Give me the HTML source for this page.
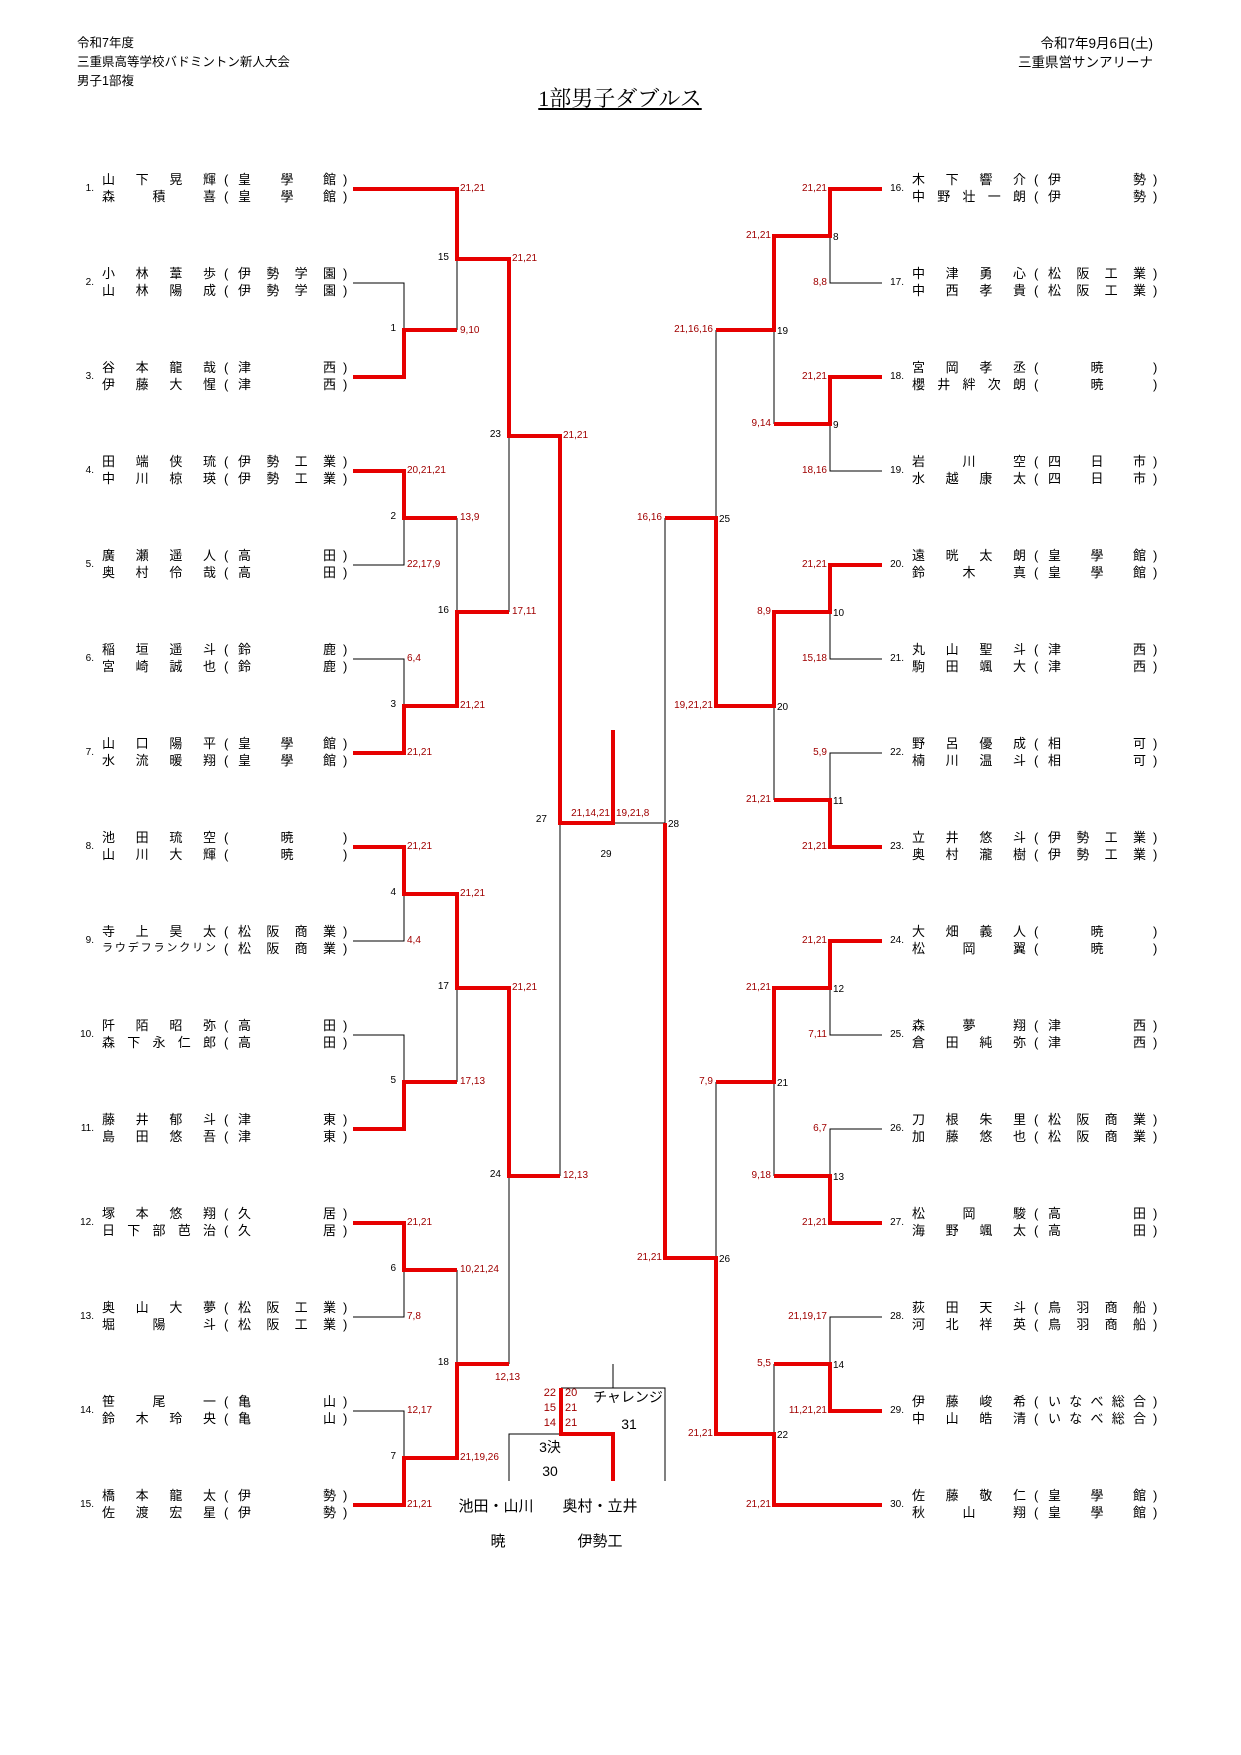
<!DOCTYPE html>
<html><head><meta charset="utf-8">
<style>
body{margin:0;background:#fff;}
#pg{position:relative;width:1241px;height:1755px;overflow:hidden;font-family:"Liberation Sans","Noto Sans CJK JP",sans-serif;color:#000;}
svg{position:absolute;left:0;top:0}
.hd{position:absolute;font-size:12.5px;line-height:19px;}
.en{position:absolute;left:0;width:360px;height:36px;}
.en.R{left:810px}
.sd{position:absolute;left:66px;width:28px;text-align:right;top:11px;font-size:10px;line-height:14px}
.ln{position:absolute;left:102px;width:250px;height:17px;font-size:13px;line-height:17px;white-space:nowrap}
.l2{top:17px}
.nm{position:absolute;left:0;width:114px;text-align:justify;text-align-last:justify}
.pl{position:absolute;left:122px}
.sc{position:absolute;left:136px;width:98px;text-align:justify;text-align-last:justify}
.sc.c{text-align-last:center;text-align:center}
.pr{position:absolute;left:241px}
.kt{font-size:11px}
</style></head><body><div id="pg">
<div class="hd" style="left:77px;top:34px">令和7年度<br>三重県高等学校バドミントン新人大会<br>男子1部複</div>
<div class="hd" style="right:88px;top:34px;text-align:right;font-size:13.5px">令和7年9月6日(土)<br>三重県営サンアリーナ</div>
<div style="position:absolute;left:520px;width:200px;top:86px;text-align:center;font-family:'Liberation Serif','Noto Serif CJK SC',serif;font-size:22px;line-height:26px;text-decoration:underline">1部男子ダブルス</div>

<svg width="1241" height="1755" viewBox="0 0 1241 1755" xmlns="http://www.w3.org/2000/svg">
<g fill="none" stroke="#000" stroke-width="1">
<polyline points="353,283 404,283 404,330"/>
<line x1="457" y1="259" x2="457" y2="330"/>
<polyline points="353,565 404,565 404,518"/>
<polyline points="353,659 404,659 404,706"/>
<line x1="457" y1="518" x2="457" y2="612"/>
<line x1="509" y1="436" x2="509" y2="612"/>
<polyline points="353,941 404,941 404,894"/>
<polyline points="353,1035 404,1035 404,1082"/>
<line x1="457" y1="988" x2="457" y2="1082"/>
<polyline points="353,1317 404,1317 404,1270"/>
<polyline points="353,1411 404,1411 404,1458"/>
<line x1="457" y1="1270" x2="457" y2="1364"/>
<line x1="509" y1="1176" x2="509" y2="1364"/>
<line x1="560" y1="823" x2="560" y2="1176"/>
<line x1="613" y1="823" x2="665" y2="823"/>
<polyline points="882,283 830,283 830,236"/>
<line x1="774" y1="330" x2="774" y2="424"/>
<polyline points="882,471 830,471 830,424"/>
<line x1="716" y1="330" x2="716" y2="518"/>
<polyline points="882,659 830,659 830,612"/>
<polyline points="882,753 830,753 830,800"/>
<line x1="774" y1="706" x2="774" y2="800"/>
<line x1="665" y1="518" x2="665" y2="823"/>
<polyline points="882,1035 830,1035 830,988"/>
<polyline points="882,1129 830,1129 830,1176"/>
<line x1="774" y1="1082" x2="774" y2="1176"/>
<line x1="716" y1="1082" x2="716" y2="1258"/>
<polyline points="882,1317 830,1317 830,1364"/>
<line x1="774" y1="1364" x2="774" y2="1434"/>
<polyline points="509,1481 509,1434 561,1434"/>
<polyline points="561,1388 665,1388 665,1481"/>
<line x1="613" y1="1364" x2="613" y2="1388"/>
</g>
<g fill="none" stroke="#e60000" stroke-width="4" stroke-linejoin="miter">
<polyline points="353,189 457,189 457,259 509,259 509,436 560,436 560,823 613,823 613,730"/>
<polyline points="353,377 404,377 404,330 457,330"/>
<polyline points="353,471 404,471 404,518 457,518"/>
<polyline points="353,753 404,753 404,706 457,706 457,612 509,612"/>
<polyline points="353,847 404,847 404,894 457,894 457,988 509,988 509,1176 560,1176"/>
<polyline points="353,1129 404,1129 404,1082 457,1082"/>
<polyline points="353,1223 404,1223 404,1270 457,1270"/>
<polyline points="353,1505 404,1505 404,1458 457,1458 457,1364 509,1364"/>
<polyline points="882,189 830,189 830,236 774,236 774,330 716,330"/>
<polyline points="882,377 830,377 830,424 774,424"/>
<polyline points="882,565 830,565 830,612 774,612 774,706 716,706 716,518 665,518"/>
<polyline points="882,847 830,847 830,800 774,800"/>
<polyline points="882,941 830,941 830,988 774,988 774,1082 716,1082"/>
<polyline points="882,1223 830,1223 830,1176 774,1176"/>
<polyline points="882,1411 830,1411 830,1364 774,1364"/>
<polyline points="882,1505 774,1505 774,1434 716,1434 716,1258 665,1258 665,823"/>
<polyline points="561,1388 561,1434 613,1434 613,1481"/>
</g>
<g font-family="Liberation Sans, sans-serif" font-size="10" fill="#a00000">
<text x="460" y="191">21,21</text><text x="460" y="333">9,10</text>
<text x="512" y="261">21,21</text><text x="512" y="614">17,11</text>
<text x="407" y="473">20,21,21</text><text x="407" y="567">22,17,9</text>
<text x="460" y="520">13,9</text><text x="460" y="708">21,21</text>
<text x="407" y="661">6,4</text><text x="407" y="755">21,21</text>
<text x="563" y="438">21,21</text><text x="563" y="1178">12,13</text>
<text x="407" y="849">21,21</text><text x="407" y="943">4,4</text>
<text x="460" y="896">21,21</text><text x="460" y="1084">17,13</text>
<text x="512" y="990">21,21</text><text x="495" y="1380">12,13</text>
<text x="460" y="1272">10,21,24</text><text x="460" y="1460">21,19,26</text>
<text x="407" y="1225">21,21</text><text x="407" y="1319">7,8</text>
<text x="407" y="1413">12,17</text><text x="407" y="1507">21,21</text>
<text x="610" y="816" text-anchor="end">21,14,21</text><text x="616" y="816">19,21,8</text>
<g text-anchor="end">
<text x="827" y="191">21,21</text><text x="827" y="285">8,8</text>
<text x="771" y="238">21,21</text><text x="771" y="426">9,14</text>
<text x="827" y="379">21,21</text><text x="827" y="473">18,16</text>
<text x="713" y="332">21,16,16</text><text x="713" y="708">19,21,21</text>
<text x="662" y="520">16,16</text><text x="662" y="1260">21,21</text>
<text x="827" y="567">21,21</text><text x="827" y="661">15,18</text>
<text x="771" y="614">8,9</text><text x="771" y="802">21,21</text>
<text x="827" y="755">5,9</text><text x="827" y="849">21,21</text>
<text x="827" y="943">21,21</text><text x="827" y="1037">7,11</text>
<text x="771" y="990">21,21</text><text x="771" y="1178">9,18</text>
<text x="713" y="1084">7,9</text><text x="713" y="1436">21,21</text>
<text x="827" y="1131">6,7</text><text x="827" y="1225">21,21</text>
<text x="827" y="1319">21,19,17</text><text x="827" y="1413">11,21,21</text>
<text x="771" y="1366">5,5</text><text x="771" y="1507">21,21</text>
</g>
<g font-size="11">
<text x="556" y="1396" text-anchor="end">22</text><text x="556" y="1411" text-anchor="end">15</text><text x="556" y="1426" text-anchor="end">14</text>
<text x="565" y="1396">20</text><text x="565" y="1411">21</text><text x="565" y="1426">21</text>
</g>
</g>
<g font-family="Liberation Sans, sans-serif" font-size="10" fill="#000">
<g text-anchor="end">
<text x="396" y="331">1</text><text x="396" y="519">2</text><text x="396" y="707">3</text><text x="396" y="895">4</text><text x="396" y="1083">5</text><text x="396" y="1271">6</text><text x="396" y="1459">7</text>
<text x="449" y="260">15</text><text x="449" y="613">16</text><text x="449" y="989">17</text><text x="449" y="1365">18</text>
<text x="501" y="437">23</text><text x="501" y="1177">24</text><text x="547" y="822">27</text>
</g>
<text x="833" y="240">8</text><text x="833" y="428">9</text><text x="833" y="616">10</text><text x="833" y="804">11</text><text x="833" y="992">12</text><text x="833" y="1180">13</text><text x="833" y="1368">14</text>
<text x="777" y="334">19</text><text x="777" y="710">20</text><text x="777" y="1086">21</text><text x="777" y="1438">22</text>
<text x="719" y="522">25</text><text x="719" y="1262">26</text><text x="668" y="827">28</text>
<text x="606" y="857" text-anchor="middle">29</text>
</g>
<g font-family="Liberation Sans, Noto Sans CJK JP, sans-serif" fill="#000" text-anchor="middle">
<text x="628" y="1402" font-size="14">チャレンジ</text>
<text x="629" y="1429" font-size="14">31</text>
<text x="550" y="1452" font-size="14">3決</text>
<text x="550" y="1476" font-size="14">30</text>
<text x="496" y="1511" font-size="15">池田・山川</text>
<text x="600" y="1511" font-size="15">奥村・立井</text>
<text x="498" y="1546" font-size="15">暁</text>
<text x="600" y="1546" font-size="15">伊勢工</text>
</g>
</svg>

<div class="en" style="top:171px"><span class="sd">1.</span><div class="ln"><span class="nm">山下晃輝</span><span class="pl">(</span><span class="sc">皇學館</span><span class="pr">)</span></div><div class="ln l2"><span class="nm">森積喜</span><span class="pl">(</span><span class="sc">皇學館</span><span class="pr">)</span></div></div>
<div class="en" style="top:265px"><span class="sd">2.</span><div class="ln"><span class="nm">小林葦歩</span><span class="pl">(</span><span class="sc">伊勢学園</span><span class="pr">)</span></div><div class="ln l2"><span class="nm">山林陽成</span><span class="pl">(</span><span class="sc">伊勢学園</span><span class="pr">)</span></div></div>
<div class="en" style="top:359px"><span class="sd">3.</span><div class="ln"><span class="nm">谷本龍哉</span><span class="pl">(</span><span class="sc">津西</span><span class="pr">)</span></div><div class="ln l2"><span class="nm">伊藤大惺</span><span class="pl">(</span><span class="sc">津西</span><span class="pr">)</span></div></div>
<div class="en" style="top:453px"><span class="sd">4.</span><div class="ln"><span class="nm">田端侠琉</span><span class="pl">(</span><span class="sc">伊勢工業</span><span class="pr">)</span></div><div class="ln l2"><span class="nm">中川椋瑛</span><span class="pl">(</span><span class="sc">伊勢工業</span><span class="pr">)</span></div></div>
<div class="en" style="top:547px"><span class="sd">5.</span><div class="ln"><span class="nm">廣瀬遥人</span><span class="pl">(</span><span class="sc">高田</span><span class="pr">)</span></div><div class="ln l2"><span class="nm">奥村伶哉</span><span class="pl">(</span><span class="sc">高田</span><span class="pr">)</span></div></div>
<div class="en" style="top:641px"><span class="sd">6.</span><div class="ln"><span class="nm">稲垣遥斗</span><span class="pl">(</span><span class="sc">鈴鹿</span><span class="pr">)</span></div><div class="ln l2"><span class="nm">宮崎誠也</span><span class="pl">(</span><span class="sc">鈴鹿</span><span class="pr">)</span></div></div>
<div class="en" style="top:735px"><span class="sd">7.</span><div class="ln"><span class="nm">山口陽平</span><span class="pl">(</span><span class="sc">皇學館</span><span class="pr">)</span></div><div class="ln l2"><span class="nm">水流暖翔</span><span class="pl">(</span><span class="sc">皇學館</span><span class="pr">)</span></div></div>
<div class="en" style="top:829px"><span class="sd">8.</span><div class="ln"><span class="nm">池田琉空</span><span class="pl">(</span><span class="sc c">暁</span><span class="pr">)</span></div><div class="ln l2"><span class="nm">山川大輝</span><span class="pl">(</span><span class="sc c">暁</span><span class="pr">)</span></div></div>
<div class="en" style="top:923px"><span class="sd">9.</span><div class="ln"><span class="nm">寺上昊太</span><span class="pl">(</span><span class="sc">松阪商業</span><span class="pr">)</span></div><div class="ln l2"><span class="nm kt">ラウデフランクリン</span><span class="pl">(</span><span class="sc">松阪商業</span><span class="pr">)</span></div></div>
<div class="en" style="top:1017px"><span class="sd">10.</span><div class="ln"><span class="nm">阡陌昭弥</span><span class="pl">(</span><span class="sc">高田</span><span class="pr">)</span></div><div class="ln l2"><span class="nm">森下永仁郎</span><span class="pl">(</span><span class="sc">高田</span><span class="pr">)</span></div></div>
<div class="en" style="top:1111px"><span class="sd">11.</span><div class="ln"><span class="nm">藤井郁斗</span><span class="pl">(</span><span class="sc">津東</span><span class="pr">)</span></div><div class="ln l2"><span class="nm">島田悠吾</span><span class="pl">(</span><span class="sc">津東</span><span class="pr">)</span></div></div>
<div class="en" style="top:1205px"><span class="sd">12.</span><div class="ln"><span class="nm">塚本悠翔</span><span class="pl">(</span><span class="sc">久居</span><span class="pr">)</span></div><div class="ln l2"><span class="nm">日下部芭治</span><span class="pl">(</span><span class="sc">久居</span><span class="pr">)</span></div></div>
<div class="en" style="top:1299px"><span class="sd">13.</span><div class="ln"><span class="nm">奥山大夢</span><span class="pl">(</span><span class="sc">松阪工業</span><span class="pr">)</span></div><div class="ln l2"><span class="nm">堀陽斗</span><span class="pl">(</span><span class="sc">松阪工業</span><span class="pr">)</span></div></div>
<div class="en" style="top:1393px"><span class="sd">14.</span><div class="ln"><span class="nm">笹尾一</span><span class="pl">(</span><span class="sc">亀山</span><span class="pr">)</span></div><div class="ln l2"><span class="nm">鈴木玲央</span><span class="pl">(</span><span class="sc">亀山</span><span class="pr">)</span></div></div>
<div class="en" style="top:1487px"><span class="sd">15.</span><div class="ln"><span class="nm">橋本龍太</span><span class="pl">(</span><span class="sc">伊勢</span><span class="pr">)</span></div><div class="ln l2"><span class="nm">佐渡宏星</span><span class="pl">(</span><span class="sc">伊勢</span><span class="pr">)</span></div></div>

<div class="en R" style="top:171px"><span class="sd">16.</span><div class="ln"><span class="nm">木下響介</span><span class="pl">(</span><span class="sc">伊勢</span><span class="pr">)</span></div><div class="ln l2"><span class="nm">中野壮一朗</span><span class="pl">(</span><span class="sc">伊勢</span><span class="pr">)</span></div></div>
<div class="en R" style="top:265px"><span class="sd">17.</span><div class="ln"><span class="nm">中津勇心</span><span class="pl">(</span><span class="sc">松阪工業</span><span class="pr">)</span></div><div class="ln l2"><span class="nm">中西孝貴</span><span class="pl">(</span><span class="sc">松阪工業</span><span class="pr">)</span></div></div>
<div class="en R" style="top:359px"><span class="sd">18.</span><div class="ln"><span class="nm">宮岡孝丞</span><span class="pl">(</span><span class="sc c">暁</span><span class="pr">)</span></div><div class="ln l2"><span class="nm">櫻井絆次朗</span><span class="pl">(</span><span class="sc c">暁</span><span class="pr">)</span></div></div>
<div class="en R" style="top:453px"><span class="sd">19.</span><div class="ln"><span class="nm">岩川空</span><span class="pl">(</span><span class="sc">四日市</span><span class="pr">)</span></div><div class="ln l2"><span class="nm">水越康太</span><span class="pl">(</span><span class="sc">四日市</span><span class="pr">)</span></div></div>
<div class="en R" style="top:547px"><span class="sd">20.</span><div class="ln"><span class="nm">遠晄太朗</span><span class="pl">(</span><span class="sc">皇學館</span><span class="pr">)</span></div><div class="ln l2"><span class="nm">鈴木真</span><span class="pl">(</span><span class="sc">皇學館</span><span class="pr">)</span></div></div>
<div class="en R" style="top:641px"><span class="sd">21.</span><div class="ln"><span class="nm">丸山聖斗</span><span class="pl">(</span><span class="sc">津西</span><span class="pr">)</span></div><div class="ln l2"><span class="nm">駒田颯大</span><span class="pl">(</span><span class="sc">津西</span><span class="pr">)</span></div></div>
<div class="en R" style="top:735px"><span class="sd">22.</span><div class="ln"><span class="nm">野呂優成</span><span class="pl">(</span><span class="sc">相可</span><span class="pr">)</span></div><div class="ln l2"><span class="nm">楠川温斗</span><span class="pl">(</span><span class="sc">相可</span><span class="pr">)</span></div></div>
<div class="en R" style="top:829px"><span class="sd">23.</span><div class="ln"><span class="nm">立井悠斗</span><span class="pl">(</span><span class="sc">伊勢工業</span><span class="pr">)</span></div><div class="ln l2"><span class="nm">奥村瀧樹</span><span class="pl">(</span><span class="sc">伊勢工業</span><span class="pr">)</span></div></div>
<div class="en R" style="top:923px"><span class="sd">24.</span><div class="ln"><span class="nm">大畑義人</span><span class="pl">(</span><span class="sc c">暁</span><span class="pr">)</span></div><div class="ln l2"><span class="nm">松岡翼</span><span class="pl">(</span><span class="sc c">暁</span><span class="pr">)</span></div></div>
<div class="en R" style="top:1017px"><span class="sd">25.</span><div class="ln"><span class="nm">森夢翔</span><span class="pl">(</span><span class="sc">津西</span><span class="pr">)</span></div><div class="ln l2"><span class="nm">倉田純弥</span><span class="pl">(</span><span class="sc">津西</span><span class="pr">)</span></div></div>
<div class="en R" style="top:1111px"><span class="sd">26.</span><div class="ln"><span class="nm">刀根朱里</span><span class="pl">(</span><span class="sc">松阪商業</span><span class="pr">)</span></div><div class="ln l2"><span class="nm">加藤悠也</span><span class="pl">(</span><span class="sc">松阪商業</span><span class="pr">)</span></div></div>
<div class="en R" style="top:1205px"><span class="sd">27.</span><div class="ln"><span class="nm">松岡駿</span><span class="pl">(</span><span class="sc">高田</span><span class="pr">)</span></div><div class="ln l2"><span class="nm">海野颯太</span><span class="pl">(</span><span class="sc">高田</span><span class="pr">)</span></div></div>
<div class="en R" style="top:1299px"><span class="sd">28.</span><div class="ln"><span class="nm">荻田天斗</span><span class="pl">(</span><span class="sc">鳥羽商船</span><span class="pr">)</span></div><div class="ln l2"><span class="nm">河北祥英</span><span class="pl">(</span><span class="sc">鳥羽商船</span><span class="pr">)</span></div></div>
<div class="en R" style="top:1393px"><span class="sd">29.</span><div class="ln"><span class="nm">伊藤峻希</span><span class="pl">(</span><span class="sc">いなべ総合</span><span class="pr">)</span></div><div class="ln l2"><span class="nm">中山皓清</span><span class="pl">(</span><span class="sc">いなべ総合</span><span class="pr">)</span></div></div>
<div class="en R" style="top:1487px"><span class="sd">30.</span><div class="ln"><span class="nm">佐藤敬仁</span><span class="pl">(</span><span class="sc">皇學館</span><span class="pr">)</span></div><div class="ln l2"><span class="nm">秋山翔</span><span class="pl">(</span><span class="sc">皇學館</span><span class="pr">)</span></div></div>
</div></body></html>
